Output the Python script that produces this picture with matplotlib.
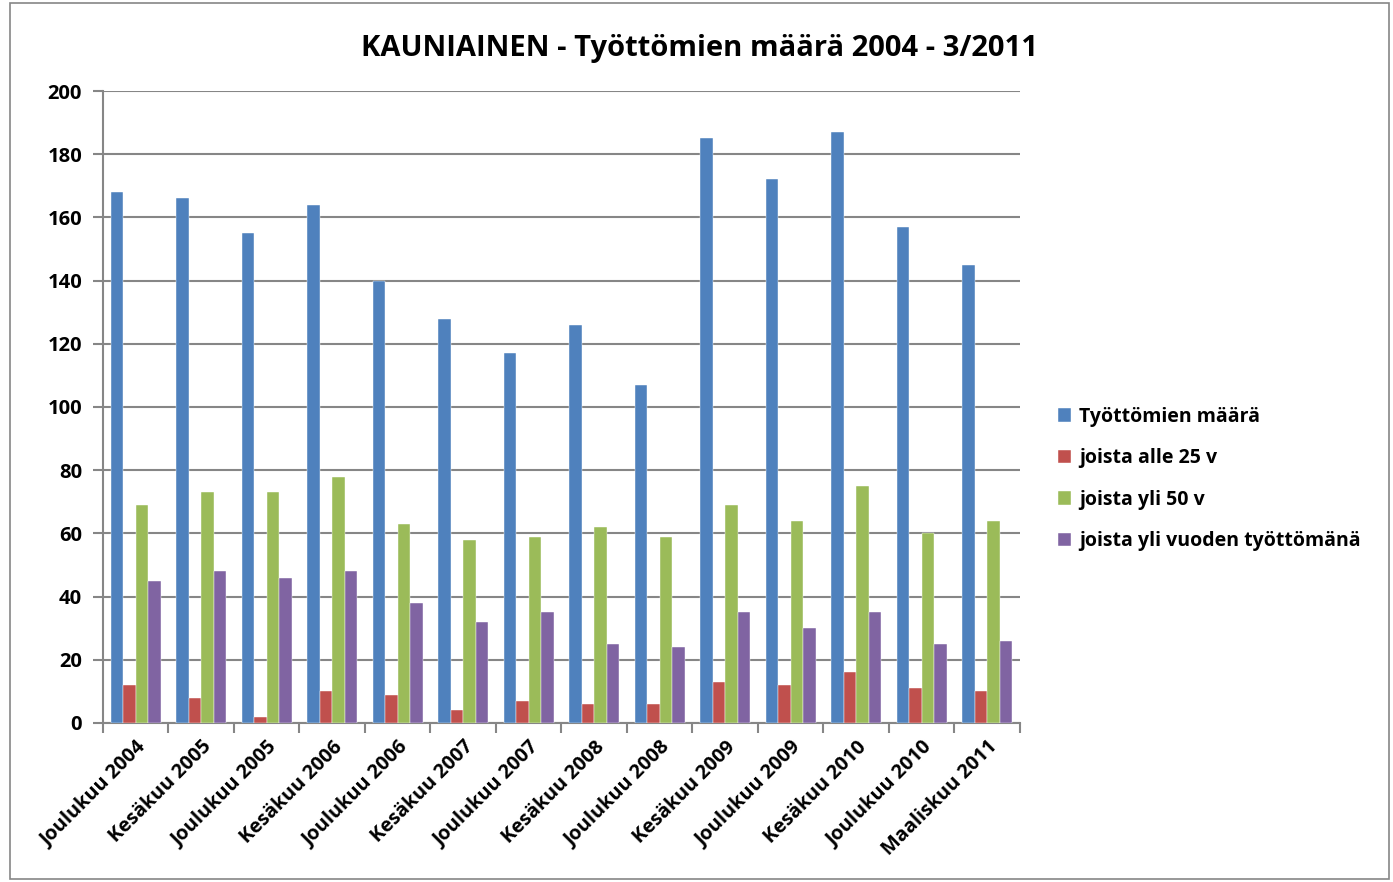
import numpy as np
import matplotlib
matplotlib.use("Agg")
from matplotlib import pyplot as plt
from matplotlib.patches import Rectangle

categories = [
    "Joulukuu 2004", "Kesäkuu 2005", "Joulukuu 2005", "Kesäkuu 2006",
    "Joulukuu 2006", "Kesäkuu 2007", "Joulukuu 2007", "Kesäkuu 2008",
    "Joulukuu 2008", "Kesäkuu 2009", "Joulukuu 2009", "Kesäkuu 2010",
    "Joulukuu 2010", "Maaliskuu 2011",
]
tyottomat = [168, 166, 155, 164, 140, 128, 117, 126, 107, 185, 172, 187, 157, 145]
alle_25 = [12, 8, 2, 10, 9, 4, 7, 6, 6, 13, 12, 16, 11, 10]
yli_50 = [69, 73, 73, 78, 63, 58, 59, 62, 59, 69, 64, 75, 60, 64]
yli_vuoden = [45, 48, 46, 48, 38, 32, 35, 25, 24, 35, 30, 35, 25, 26]

series = [
    ("Työttömien määrä", tyottomat, "#4f81bd"),
    ("joista alle 25 v", alle_25, "#c0504d"),
    ("joista yli 50 v", yli_50, "#9bbb59"),
    ("joista yli vuoden työttömänä", yli_vuoden, "#8064a2"),
]

plt.rcParams["font.family"] = ["Open Sans", "DejaVu Sans"]
plt.rcParams["font.weight"] = "bold"

fig = plt.figure(figsize=(13.93, 8.82), dpi=100)
ax = fig.add_axes([0.0739, 0.1803, 0.6583, 0.7165])

# outer chart border
fig.patches.append(Rectangle((0.007, 0.003), 0.99, 0.994, transform=fig.transFigure,
                             fill=False, edgecolor="#868686", lw=1.2))

x = np.arange(len(categories))
bw = 0.19
for i, (label, vals, color) in enumerate(series):
    ax.bar(x + (i - 1.5) * bw, vals, bw, color=color, label=label,
           edgecolor="white", linewidth=0.3, zorder=3)

ax.set_xlim(-0.5, len(categories) - 0.5)
ax.set_ylim(0, 200)
ax.set_yticks(range(0, 201, 20))
ax.grid(axis="y", color="#868686", lw=1.5, zorder=0)
for s in ["top", "right"]:
    ax.spines[s].set_visible(False)
for s in ["left", "bottom"]:
    ax.spines[s].set_color("#868686")
    ax.spines[s].set_linewidth(1.5)

# category labels between boundary ticks
ax.set_xticks(np.arange(-0.5, len(categories) + 0.5, 1.0))
ax.set_xticklabels([])
ax.set_xticks(x, minor=True)
ax.set_xticklabels(categories, minor=True, rotation=45, ha="right",
                   rotation_mode="anchor", fontsize=14.3, fontweight="bold")
ax.tick_params(axis="x", which="minor", length=0, pad=10)
ax.tick_params(axis="x", which="major", length=7, width=1.5, color="#868686")
ax.tick_params(axis="y", length=7, width=1.5, color="#868686", labelsize=14.5, pad=8)
for t in ax.get_yticklabels():
    t.set_fontweight("bold")

fig.suptitle("KAUNIAINEN - Työttömien määrä 2004 - 3/2011", x=0.502, y=0.962,
             fontsize=21, fontweight="bold")

ax.legend(loc="center left", bbox_to_anchor=(1.022, 0.386), frameon=False,
          fontsize=14, handlelength=0.7, handleheight=0.7,
          handletextpad=0.4, labelspacing=1.1)

fig.savefig("out.png", dpi=100)
